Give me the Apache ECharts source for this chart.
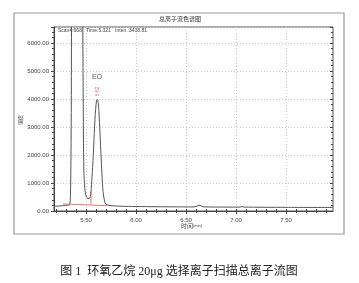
<!DOCTYPE html>
<html><head><meta charset="utf-8">
<script src="https://cdn.jsdelivr.net/npm/echarts@6/dist/echarts.min.js"></script>
<style>html,body{margin:0;padding:0;background:#fff}#c{width:359px;height:283px}</style>
</head><body><div id="c"></div>
<script>
// Time (min) and intensity
const traceTime = [5.18,5.22,5.25,5.28,5.31,5.335,5.345,5.352,5.358,5.39,5.42,5.45,5.465,5.472,5.478,5.488,5.5,5.52,5.54,5.55,5.57,5.59,5.605,5.615,5.63,5.65,5.67,5.69,5.71,5.75,5.85,6.0,6.3,6.58,6.62,6.64,6.67,6.9,7.04,7.06,7.08,7.5,7.97];
const traceInten = [170,175,185,195,205,215,600,3000,8000,14000,16000,12000,8000,4000,1500,800,540,440,480,690,1800,3300,3950,3980,3500,2000,700,300,220,190,170,160,150,145,190,200,150,140,140,160,140,130,125];
const baseTime = [5.27,5.71];
const baseInten = [250,190];
const dropTime = [5.55,5.55];
const dropInten = [225,690];
const xTickLabels = [5.5,6.0,6.5,7.0,7.5];
const yTickLabels = [0,1000,2000,3000,4000,5000,6000];
const peakLabel = {time:5.616, inten:4270, text:'5.62'};
const compound = {time:5.61, inten:4790, text:'EO'};

const xMinor = [];
for (let v = 5.2; v < 7.97; v += 0.1) xMinor.push(+v.toFixed(2));

const chart = echarts.init(document.getElementById('c'), null, {renderer:'canvas'});
const lblFont = {fontSize:6, color:'#444', fontFamily:'Liberation Sans'};
chart.setOption({
  animation:false,
  backgroundColor:'#fff',
  grid:{left:54,right:26,top:27,bottom:72,show:true,borderColor:'#555',borderWidth:1},
  xAxis:[{
    type:'value',min:5.18,max:7.97,position:'bottom',
    axisLine:{show:true,onZero:false,lineStyle:{color:'#444',width:1}},
    axisTick:{show:true,customValues:xTickLabels,length:3,inside:false,lineStyle:{color:'#444'}},
    axisLabel:{customValues:xTickLabels,formatter:v=>v.toFixed(2),margin:6,...lblFont},
    splitLine:{show:true,lineStyle:{color:'#ccc',type:[1,2],width:1}}
  },{
    type:'value',min:5.18,max:7.97,position:'bottom',
    axisLine:{show:false},
    axisTick:{show:true,customValues:xMinor,length:2,inside:true,lineStyle:{color:'#444'}},
    axisLabel:{show:false},splitLine:{show:false}
  },{
    type:'value',min:5.18,max:7.97,position:'top',
    axisLine:{show:false},
    axisTick:{show:true,customValues:xMinor,length:2,inside:true,lineStyle:{color:'#444'}},
    axisLabel:{show:false},splitLine:{show:false}
  }],
  yAxis:[{
    type:'value',min:0,max:6570,interval:1000,
    axisLine:{show:true,lineStyle:{color:'#444'}},
    axisTick:{show:true,length:3,lineStyle:{color:'#444'}},
    minorTick:{show:true,splitNumber:5,length:2,lineStyle:{color:'#444'}},
    axisLabel:{formatter:v=>v.toFixed(2),showMaxLabel:false,margin:5,...lblFont},
    splitLine:{show:true,lineStyle:{color:'#ccc',type:[1,2],width:1}}
  },{
    type:'value',min:0,max:6570,interval:1000,position:'right',
    axisLine:{show:false},
    axisTick:{show:true,inside:true,length:3,lineStyle:{color:'#444'}},
    minorTick:{show:true,splitNumber:5,length:2,lineStyle:{color:'#444'}},
    axisLabel:{show:false},splitLine:{show:false}
  }],
  series:[{
    type:'line',xAxisIndex:0,yAxisIndex:0,
    data:traceTime.map((t,i)=>[t,traceInten[i]]),
    showSymbol:false,smooth:0.25,clip:true,
    lineStyle:{color:'#555',width:1}
  },{
    type:'line',data:baseTime.map((t,i)=>[t,baseInten[i]]),
    showSymbol:false,lineStyle:{color:'#d9534f',width:0.8}
  },{
    type:'line',data:dropTime.map((t,i)=>[t,dropInten[i]]),
    showSymbol:false,lineStyle:{color:'#d9534f',width:0.8}
  },{
    type:'scatter',symbolSize:0,
    data:[[peakLabel.time,peakLabel.inten]],
    label:{show:true,position:'inside',rotate:90,formatter:peakLabel.text,fontSize:5,color:'#e05050',fontFamily:'Liberation Sans'}
  },{
    type:'scatter',symbolSize:0,
    data:[[compound.time,compound.inten]],
    label:{show:true,position:'inside',formatter:compound.text,fontSize:7,color:'#333',fontFamily:'Liberation Sans'}
  }],
  graphic:[
    {type:'rect',shape:{x:14,y:13,width:330,height:221},style:{fill:null,stroke:'#999',lineWidth:1.2},silent:true},
    {type:'text',x:180,y:19,style:{text:'总离子流色谱图',fontSize:6,fill:'#333',align:'center',verticalAlign:'middle',fontFamily:'Noto Sans CJK SC'}},
    {type:'text',x:58,y:31,style:{text:'Scan#:668   Time:5.321   Inten.:3438.81',fontSize:5,fill:'#444',verticalAlign:'middle',fontFamily:'Liberation Sans'}},
    {type:'text',x:20,y:120,rotation:Math.PI/2,style:{text:'强度',fontSize:5,fill:'#444',align:'center',verticalAlign:'middle',fontFamily:'Noto Sans CJK SC'}},
    {type:'text',x:193,y:226,style:{text:'时间',fontSize:6,fill:'#444',align:'right',verticalAlign:'middle',fontFamily:'Noto Sans CJK SC'}},
    {type:'text',x:193,y:226,style:{text:'(min)',fontSize:4,fill:'#444',align:'left',verticalAlign:'middle',fontFamily:'Liberation Sans'}},
    {type:'text',x:179,y:272,style:{text:'图 1  环氧乙烷 20μg 选择离子扫描总离子流图',fontSize:12,fill:'#222',align:'center',verticalAlign:'middle',fontFamily:'Liberation Serif, Noto Sans CJK SC'}}
  ]
});
</script></body></html>
